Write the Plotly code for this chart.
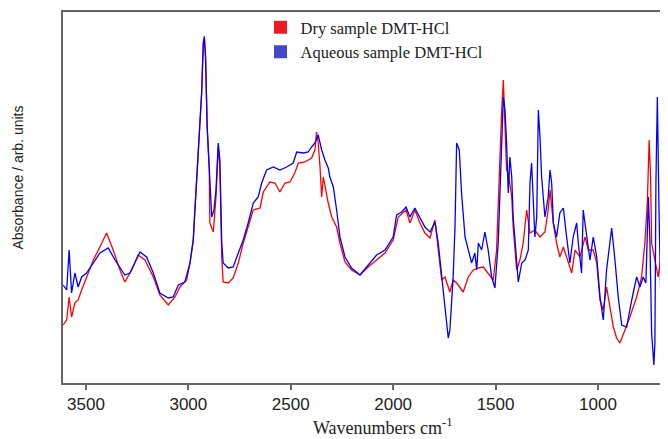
import plotly.graph_objects as go

# Wavenumbers (cm-1) and absorbance (arb. units)
dry_wn = [3611, 3594, 3582, 3570, 3554, 3538, 3521, 3497, 3464, 3432, 3399, 3367, 3334, 3310,
          3277, 3245, 3212, 3171, 3139, 3098, 3065, 3041, 3008, 2992, 2976, 2968, 2960, 2952,
          2935, 2927, 2922, 2916, 2908, 2898, 2895, 2878, 2865, 2854, 2846, 2837, 2830, 2805,
          2781, 2756, 2732, 2708, 2683, 2650, 2634, 2602, 2577, 2553, 2528, 2504, 2480, 2463,
          2431, 2398, 2382, 2374, 2366, 2357, 2349, 2341, 2325, 2317, 2300, 2276, 2260, 2235,
          2203, 2162, 2122, 2081, 2040, 2000, 1975, 1937, 1918, 1894, 1869, 1845, 1820, 1796,
          1780, 1763, 1747, 1723, 1707, 1690, 1658, 1633, 1609, 1584, 1560, 1536, 1511, 1495,
          1482, 1470, 1462, 1454, 1446, 1438, 1421, 1414, 1397, 1381, 1365, 1348, 1332, 1308,
          1283, 1259, 1243, 1234, 1218, 1202, 1186, 1169, 1145, 1128, 1112, 1088, 1063, 1047,
          1023, 1006, 990, 974, 958, 941, 925, 909, 893, 868, 844, 811, 787, 771, 759, 750,
          743, 738, 722, 706, 689, 678, 671, 668, 662]
dry_abs = [0.58, 0.63, 0.86, 0.66, 0.80, 0.83, 0.93, 1.06, 1.23, 1.36, 1.50, 1.33, 1.13, 1.01,
           1.13, 1.28, 1.23, 1.06, 0.88, 0.78, 0.86, 0.96, 1.03, 1.20, 1.43, 1.73, 2.00, 2.25,
           2.90, 3.40, 3.47, 3.26, 2.56, 2.13, 1.60, 1.51, 1.86, 2.36, 2.16, 1.26, 1.01, 1.00,
           1.05, 1.20, 1.40, 1.56, 1.73, 1.75, 1.91, 2.01, 2.00, 1.91, 2.00, 2.01, 2.10, 2.20,
           2.21, 2.25, 2.33, 2.51, 2.40, 2.16, 1.86, 2.06, 1.86, 1.80, 1.66, 1.56, 1.40, 1.21,
           1.13, 1.08, 1.16, 1.23, 1.30, 1.43, 1.66, 1.73, 1.60, 1.73, 1.60, 1.50, 1.45, 1.63,
           1.33, 1.03, 1.06, 0.91, 1.03, 1.00, 0.91, 1.06, 1.13, 1.15, 1.16, 1.10, 1.03, 1.33,
           2.13, 2.73, 3.03, 2.56, 2.13, 2.10, 1.86, 1.56, 1.13, 1.23, 1.40, 1.73, 1.50, 1.53,
           1.46, 1.51, 1.73, 1.93, 1.60, 1.40, 1.26, 1.36, 1.20, 1.10, 1.33, 1.26, 1.46, 1.33,
           1.33, 1.20, 0.83, 0.73, 0.96, 0.73, 0.56, 0.45, 0.40, 0.53, 0.66, 0.86, 1.06, 1.40, 1.80, 2.43,
           2.06, 1.40, 1.23, 1.06, 1.33, 2.00, 2.96, 3.63, 2.73]

aq_wn = [3611, 3594, 3582, 3570, 3554, 3538, 3521, 3497, 3464, 3432, 3391, 3358, 3310, 3285,
         3236, 3204, 3171, 3139, 3098, 3074, 3049, 3017, 2992, 2976, 2968, 2960, 2952, 2935,
         2927, 2922, 2916, 2908, 2898, 2886, 2875, 2865, 2854, 2846, 2837, 2830, 2805, 2781,
         2756, 2732, 2708, 2683, 2659, 2642, 2618, 2585, 2553, 2520, 2488, 2471, 2439, 2415,
         2398, 2382, 2366, 2349, 2333, 2317, 2309, 2292, 2276, 2260, 2235, 2203, 2162, 2122,
         2081, 2040, 2000, 1983, 1959, 1937, 1918, 1894, 1869, 1845, 1820, 1796, 1780, 1763,
         1747, 1731, 1723, 1707, 1698, 1690, 1677, 1666, 1649, 1633, 1617, 1601, 1592, 1584,
         1568, 1552, 1536, 1519, 1503, 1487, 1478, 1470, 1462, 1454, 1446, 1438, 1430, 1421,
         1414, 1405, 1389, 1372, 1356, 1340, 1332, 1324, 1316, 1308, 1299, 1291, 1283, 1275,
         1259, 1243, 1234, 1226, 1218, 1202, 1186, 1169, 1153, 1137, 1121, 1104, 1096, 1080,
         1072, 1055, 1039, 1023, 1006, 990, 974, 958, 941, 933, 917, 901, 884, 860, 835, 811,
         795, 779, 766, 754, 746, 738, 727, 722, 717, 710, 702, 694, 681, 673, 665, 660]
aq_abs = [0.98, 0.93, 1.33, 0.90, 1.10, 0.96, 1.06, 1.10, 1.20, 1.30, 1.35, 1.23, 1.08, 1.10,
          1.31, 1.26, 1.10, 0.90, 0.85, 0.86, 0.98, 1.01, 1.20, 1.43, 1.73, 2.00, 2.25, 2.90,
          3.40, 3.45, 3.26, 2.56, 2.16, 1.66, 1.73, 1.93, 2.40, 2.23, 1.40, 1.20, 1.15, 1.16,
          1.30, 1.43, 1.60, 1.80, 1.86, 2.00, 2.13, 2.16, 2.13, 2.16, 2.20, 2.31, 2.30, 2.31,
          2.36, 2.40, 2.48, 2.33, 2.23, 2.15, 2.06, 1.96, 1.73, 1.46, 1.26, 1.15, 1.08, 1.18,
          1.28, 1.33, 1.46, 1.68, 1.71, 1.76, 1.66, 1.75, 1.65, 1.56, 1.51, 1.61, 1.40, 1.06,
          0.80, 0.45, 0.53, 1.06, 1.56, 2.40, 2.33, 1.90, 1.46, 1.33, 1.20, 1.30, 1.13, 1.40,
          1.33, 1.51, 1.33, 1.06, 0.95, 1.40, 1.90, 2.53, 2.86, 2.73, 2.40, 1.90, 2.26, 2.06,
          1.66, 1.43, 1.01, 1.20, 1.23, 1.33, 2.00, 2.20, 1.86, 1.46, 1.66, 2.73, 2.46, 2.06,
          1.66, 1.86, 2.13, 2.00, 1.60, 1.46, 1.70, 1.75, 1.46, 1.20, 1.46, 1.60, 1.40, 1.10,
          1.73, 1.46, 1.23, 1.46, 1.26, 0.86, 0.63, 1.13, 1.43, 1.55, 1.23, 0.86, 0.58, 0.56, 0.83, 1.06,
          0.96, 1.06, 1.00, 1.86, 1.40, 0.50, 0.18, 0.40, 2.00, 2.86, 1.73, 0.93, 1.13, 0.90, 1.90, 1.80]

series_names = ["Dry sample DMT-HCl", "Aqueous sample DMT-HCl"]
x_ticks = [3500, 3000, 2500, 2000, 1500, 1000]

fig = go.Figure()
fig.add_trace(go.Scatter(x=dry_wn, y=dry_abs, mode="lines", line=dict(color="#ff0000", width=1.3),
                         showlegend=False))
fig.add_trace(go.Scatter(x=aq_wn, y=aq_abs, mode="lines", line=dict(color="#0000ff", width=1.3),
                         showlegend=False))
# legend entries (square swatches)
fig.add_trace(go.Scatter(x=[None], y=[None], mode="markers", name=series_names[0],
                         marker=dict(symbol="square", size=13, color="#ed1c24")))
fig.add_trace(go.Scatter(x=[None], y=[None], mode="markers", name=series_names[1],
                         marker=dict(symbol="square", size=13, color="#3f48cc")))

# the page has an 8px body margin, so the figure is 8px smaller than the window
W, H = 660, 431
L, R, T, B = 55, 0, 4, 56
pw = W - L - R
ph = H - T - B

fig.update_layout(
    width=W, height=H,
    margin=dict(l=L, r=R, t=T, b=B),
    paper_bgcolor="white", plot_bgcolor="white",
    showlegend=True,
    legend=dict(x=(252.5 - L) / pw, y=1 + 2 / ph, xanchor="left", yanchor="top",
                bgcolor="rgba(0,0,0,0)", borderwidth=0,
                font=dict(family="Liberation Serif, Times New Roman, serif", size=16.5, color="#222")),
    xaxis=dict(range=[3612, 658], tickvals=x_ticks, ticktext=[str(t) for t in x_ticks],
               showgrid=False, zeroline=False, showline=True, linecolor="#666", linewidth=2,
               mirror=True, ticks="outside", ticklen=5, tickcolor="#666", tickwidth=1.5,
               tickfont=dict(family="Liberation Sans, Arial, sans-serif", size=17, color="#222")),
    yaxis=dict(range=[0, 3.71], showticklabels=False, showgrid=False, zeroline=False,
               showline=True, linecolor="#666", linewidth=2, ticks=""),
    annotations=[
        dict(text="Wavenumbers cm<sup>-1</sup>", xref="paper", yref="paper",
             x=(375 - L) / pw, y=0, yshift=-43, xanchor="center", yanchor="middle",
             showarrow=False,
             font=dict(family="Liberation Serif, Times New Roman, serif", size=18, color="#222")),
        dict(text="Absorbance / arb. units", xref="paper", yref="paper", textangle=-90,
             x=0, xshift=-45, y=(375 - 169.5) / ph, xanchor="center", yanchor="middle",
             showarrow=False,
             font=dict(family="Liberation Sans, Arial, sans-serif", size=14, color="#222")),
    ],
)

fig.write_html("out.html")
